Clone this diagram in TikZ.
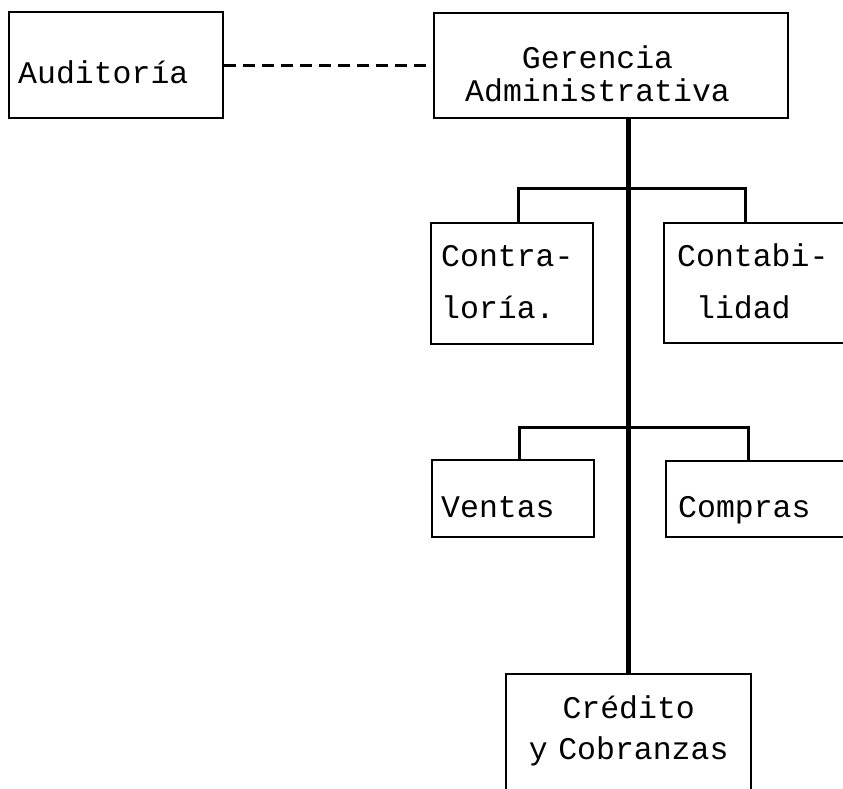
\documentclass[tikz,border=0pt]{standalone}
\usepackage{fontspec}
\newfontfamily\boxfont{Liberation Mono}
% several lines of text with a chosen line distance, first baseline on the node baseline
\newcommand\boxlines[3]{{\fontsize{31.5}{#1}\selectfont\begin{tabular}[t]{@{}#2@{}}#3\end{tabular}}}
\begin{document}
\begin{tikzpicture}[x=1pt,y=-1pt,
  box/.style={draw, line width=2.4pt, rectangle, anchor=north west,
    inner ysep=0pt, align=left, font={\boxfont\fontsize{31.5}{40}\selectfont}},
  link/.style={line width=3pt},
  trunk/.style={line width=4.5pt},
  staff/.style={line width=3pt, dash pattern=on 12pt off 7pt}]
\useasboundingbox (0,0) rectangle (843,788);
\clip (0,0) rectangle (843,788);

% units
\node[box, text width=196pt, inner xsep=9pt, text height=71pt, text depth=35pt]
  (aud) at (8,11) {Auditoría};
\node[box, text width=334pt, inner xsep=10pt, text height=55pt, text depth=50pt]
  (ger) at (433,12) {\hspace*{21pt}\boxlines{33}{c}{Gerencia\\Administrativa}};
\node[box, text width=142pt, inner xsep=10pt, text height=43pt, text depth=78pt]
  (contra) at (430,222) {\boxlines{52}{l}{Contra-\\loría.}};
\node[box, text width=234pt, inner xsep=13pt, text height=43pt, text depth=77pt]
  (contab) at (663,222) {\boxlines{52}{l}{Contabi-\\\phantom{C}lidad}};
\node[box, text width=144pt, inner xsep=9pt, text height=57pt, text depth=20pt]
  (ventas) at (431,459) {Ventas};
\node[box, text width=236pt, inner xsep=12pt, text height=56pt, text depth=20pt]
  (compras) at (665,460) {Compras};
\node[box, text width=225pt, inner xsep=10pt, align=center, text height=44pt, text depth=150pt]
  (cred) at (505,673) {\boxlines{41}{c}{Crédito\\y Cobranzas}};

% junctions on the main line
\coordinate (j1) at (627.5,188);
\coordinate (j2) at (627.5,427);

% staff relation
\draw[staff] (aud.east) -- (aud.east -| ger.west);
% line of authority
\draw[trunk] (cred.north |- ger.south) -- (cred.north);
% branches
\draw[link] ([xshift=6pt]contra.north) |- (j1) -| ([xshift=82pt]contab.north west);
\draw[link] ([xshift=6pt]ventas.north) |- (j2) -| ([xshift=83pt]compras.north west);
\end{tikzpicture}
\end{document}
